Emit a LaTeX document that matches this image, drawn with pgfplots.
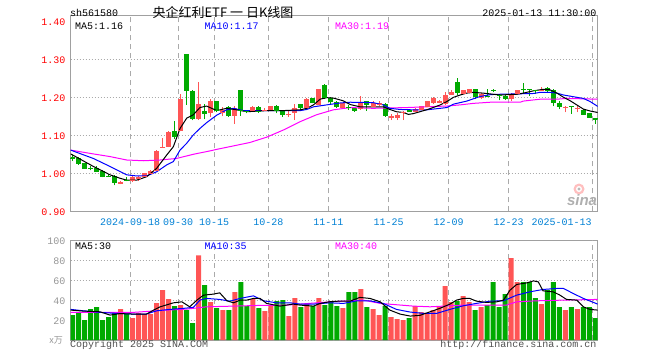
\documentclass[border=0pt]{standalone}
\usepackage{pgfplots}
\pgfplotsset{compat=1.18}
\usepackage{pgfplotstable}
\usepackage{fontspec}
\setmainfont{Liberation Mono}
\newfontfamily\cjk{Noto Sans CJK SC}
\newfontfamily\sinafont{Liberation Sans}
\definecolor{cred}{RGB}{255,85,85}
\definecolor{cgreen}{RGB}{0,170,0}
\definecolor{cblue}{RGB}{0,0,255}
\definecolor{cmag}{RGB}{255,0,255}
\definecolor{axgray}{RGB}{160,160,160}
\definecolor{gridgray}{RGB}{170,170,170}
\definecolor{xlab}{RGB}{0,128,212}
\definecolor{ylabgray}{RGB}{150,150,150}
\definecolor{copygray}{RGB}{80,80,80}

% candles: index, open, high, low, close
\pgfplotstableread{
i O H L C
8 0.973 0.979 0.971 0.978
10 0.981 0.993 0.976 0.990
11 0.985 0.993 0.981 0.991
12 0.992 1.002 0.990 1.000
13 1.000 1.009 0.998 1.007
14 1.007 1.060 1.005 1.059
15 1.068 1.092 1.067 1.070
16 1.070 1.110 1.068 1.108
18 1.112 1.209 1.110 1.195
21 1.143 1.239 1.140 1.182
23 1.160 1.196 1.148 1.189
25 1.160 1.175 1.150 1.167
27 1.151 1.177 1.130 1.171
30 1.165 1.177 1.163 1.175
32 1.165 1.171 1.163 1.167
33 1.167 1.178 1.163 1.177
36 1.155 1.165 1.148 1.157
37 1.160 1.182 1.141 1.171
39 1.174 1.197 1.173 1.195
41 1.182 1.223 1.180 1.221
45 1.174 1.186 1.172 1.184
48 1.171 1.204 1.167 1.186
50 1.176 1.191 1.174 1.184
51 1.180 1.190 1.177 1.185
53 1.148 1.157 1.140 1.150
54 1.147 1.158 1.140 1.154
55 1.161 1.163 1.140 1.162
57 1.162 1.171 1.160 1.169
58 1.169 1.178 1.167 1.177
59 1.177 1.191 1.174 1.189
60 1.186 1.200 1.182 1.197
61 1.186 1.193 1.184 1.191
62 1.184 1.215 1.181 1.206
63 1.208 1.219 1.206 1.213
65 1.211 1.220 1.208 1.219
66 1.213 1.223 1.211 1.222
68 1.200 1.211 1.195 1.208
73 1.196 1.211 1.190 1.206
74 1.209 1.219 1.207 1.218
78 1.219 1.226 1.217 1.220
82 1.174 1.176 1.160 1.175
84 1.171 1.176 1.160 1.172
}\redk
\pgfplotstableread{
i O H L C
0 1.042 1.047 1.032 1.040
1 1.039 1.042 1.022 1.025
2 1.026 1.027 1.012 1.013
3 1.014 1.019 1.008 1.012
4 1.015 1.018 1.005 1.006
5 1.007 1.008 0.989 0.991
6 0.994 0.998 0.990 0.992
7 0.993 0.995 0.968 0.975
9 0.982 0.990 0.979 0.980
17 1.112 1.138 1.090 1.096
19 1.313 1.313 1.180 1.218
20 1.217 1.218 1.139 1.145
22 1.165 1.183 1.142 1.157
24 1.189 1.191 1.160 1.164
26 1.175 1.177 1.148 1.151
28 1.218 1.218 1.151 1.165
29 1.165 1.166 1.158 1.163
31 1.174 1.176 1.159 1.163
34 1.177 1.179 1.158 1.165
35 1.165 1.167 1.148 1.156
38 1.182 1.182 1.167 1.174
40 1.197 1.199 1.184 1.187
42 1.232 1.236 1.195 1.200
43 1.197 1.201 1.180 1.189
44 1.188 1.190 1.173 1.175
46 1.174 1.180 1.167 1.172
47 1.171 1.173 1.162 1.164
49 1.189 1.191 1.164 1.182
52 1.182 1.185 1.149 1.151
56 1.165 1.168 1.162 1.164
64 1.239 1.252 1.206 1.212
67 1.222 1.222 1.195 1.202
69 1.203 1.221 1.200 1.202
70 1.219 1.221 1.213 1.217
71 1.206 1.206 1.192 1.205
72 1.204 1.205 1.194 1.196
75 1.222 1.237 1.209 1.221
76 1.222 1.223 1.204 1.221
77 1.219 1.219 1.208 1.218
79 1.225 1.227 1.215 1.218
80 1.219 1.221 1.176 1.186
81 1.186 1.191 1.168 1.175
83 1.176 1.176 1.157 1.175
85 1.167 1.169 1.154 1.156
86 1.158 1.159 1.146 1.148
87 1.144 1.146 1.130 1.143
}\greenk

% volumes (10k units)
\pgfplotstableread{
i V
8 31
10 22
11 27
12 26
13 26
14 37
15 50
16 41
18 35
21 85
23 38
25 30
27 48
30 41
32 29
33 34
36 24
37 42
39 36
41 42
45 32
48 51
50 31
51 25
53 23
54 21
55 20
57 34
58 28
59 26
60 30
61 34
62 54
63 38
65 44
66 38
68 33
73 82
74 58
78 36
82 30
84 31
}\redv
\pgfplotstableread{
i V
0 25
1 27
2 20
3 31
4 33
5 20
6 23
7 27
9 26
17 34
19 30
20 17
22 55
24 32
26 30
28 58
29 34
31 32
34 39
35 40
38 33
40 34
42 35
43 38
44 34
46 48
47 48
49 33
52 34
56 22
64 39
67 30
69 35
70 58
71 33
72 46
75 58
76 58
77 42
79 50
80 58
81 33
83 33
85 33
86 33
87 22
}\greenv

% moving averages
\pgfplotstableread{
x y
-0.3 1.051
3.47 1.018
6.24 0.996
7.90 0.987
9.01 0.982
10.68 0.982
12.34 0.991
14.0 1.013
15.67 1.048
16.78 1.070
17.89 1.118
19.0 1.145
20.1 1.154
21.2 1.173
22.3 1.177
24.0 1.165
25.65 1.171
27.3 1.167
29.0 1.162
32.3 1.165
35.1 1.165
37.9 1.167
39.0 1.171
40.1 1.180
41.2 1.195
42.3 1.199
43.4 1.198
45.0 1.191
46.2 1.181
47.8 1.175
50.0 1.175
51.7 1.175
52.8 1.168
53.9 1.162
55.05 1.160
55.9 1.155
56.7 1.157
57.8 1.162
58.9 1.167
60.0 1.173
61.2 1.180
62.3 1.189
63.4 1.200
64.5 1.206
65.6 1.211
66.7 1.213
68.3 1.211
70.0 1.208
71.1 1.206
73.9 1.208
75.0 1.211
76.7 1.217
78.3 1.221
79.4 1.220
80.6 1.211
81.7 1.200
82.8 1.191
83.9 1.180
85.0 1.169
86.1 1.164
87.39 1.160
}\mafive
\pgfplotstableread{
x y
-0.3 1.061
3.47 1.039
6.24 1.018
9.01 0.996
10.68 0.993
12.34 0.993
14.0 1.004
15.67 1.022
16.78 1.031
17.89 1.061
19.0 1.079
20.1 1.101
21.2 1.118
22.3 1.133
24.0 1.153
25.65 1.167
26.76 1.171
28.4 1.165
30.1 1.165
37.9 1.165
39.0 1.168
40.1 1.175
42.3 1.180
44.5 1.185
46.2 1.187
50.0 1.186
51.7 1.180
52.8 1.171
54.5 1.168
56.7 1.167
58.9 1.167
61.2 1.171
62.3 1.173
63.4 1.182
65.6 1.190
67.8 1.202
69.5 1.207
71.1 1.208
73.9 1.209
76.7 1.210
77.8 1.213
79.4 1.213
80.6 1.211
81.7 1.206
82.8 1.203
83.9 1.200
85.0 1.197
86.1 1.189
87.39 1.176
}\maten
\pgfplotstableread{
x y
-0.3 1.061
3.47 1.051
6.24 1.044
9.01 1.035
11.8 1.033
14.6 1.035
17.3 1.039
20.1 1.050
22.9 1.059
24.0 1.063
26.76 1.072
29.5 1.081
32.3 1.095
35.1 1.114
37.9 1.136
40.6 1.154
43.4 1.167
46.2 1.173
50.0 1.171
55.6 1.173
58.9 1.175
62.3 1.177
64.5 1.180
66.7 1.184
69.5 1.187
74.5 1.187
75.0 1.190
77.8 1.195
80.6 1.195
82.2 1.197
87.39 1.195
}\mathirty
\pgfplotstableread{
x y
-0.3 30
1.8 29
4.57 28.3
6.24 25
7.9 26.5
10.1 26
12.3 26
13.5 30
14.6 33.3
16.8 37.3
18.2 38.3
19.5 33.3
20.7 40
21.8 45
23.4 46
24.5 47.3
25.7 39.3
26.8 37.3
27.9 40
29.0 40
30.1 41.7
31.2 41.7
32.3 36.7
34.5 34
36.7 36
37.9 35
40.1 34
41.2 36.7
42.9 38.5
44.5 39
46.2 39
47.8 42.7
49.5 41.7
51.2 38.3
52.8 30
54.5 26
56.2 24
57.8 24.7
59.5 28.3
61.1 31.7
62.8 36
63.9 40
65.0 41.7
66.1 41.7
67.2 39
68.9 37.7
70.6 38.3
71.7 40
72.8 50
73.9 55.7
75.6 57.3
76.7 59.3
77.5 58.3
78.3 49.3
80.0 48.3
81.1 45
82.2 40.7
83.9 40
85.0 33.3
86.1 30.7
87.39 30
}\vfive
\pgfplotstableread{
x y
-0.3 30.7
1.8 29.3
4.57 27.7
7.35 26.7
10.1 26
12.3 26
14.0 29.3
16.2 30.7
18.4 31.7
20.1 32.7
21.2 40
22.3 41.7
24.5 40.7
26.2 39
27.9 41.7
30.1 44.3
31.8 39.3
34.0 37.3
36.2 37.3
37.9 36
40.1 36
42.8 37.3
45.1 36.7
47.3 39.3
49.5 39.3
51.7 36.7
53.9 30.7
56.2 28
58.4 26.7
60.6 26.7
62.8 30.7
65.0 34.3
67.2 36.7
69.5 39
71.7 39.3
73.9 45
76.1 48.3
78.3 50.7
80.6 51.7
81.7 51.7
83.3 46.7
85.0 41.7
87.39 36
}\vten
\pgfplotstableread{
x y
-0.3 27.7
4.57 27.7
10.1 27.7
15.7 30
19.0 31
22.3 33.3
26.8 34
31.2 34.7
35.6 35
42.9 38.3
48.4 40
51.2 36.7
56.7 34
59.5 33.3
65.0 35
70.6 35
72.2 35
73.9 38.3
77.2 39.3
81.7 40
87.39 40.7
}\vthirty

\pgfplotsset{
  kbase/.style={
    scale only axis, width=527bp,
    xmin=-0.3, xmax=87.39,
    axis line style={axgray, line width=1.1bp},
    major tick length=0pt,
    xtick={9.584,17.584,23.584,32.584,42.584,52.584,62.584,72.584},
    extra x ticks={86.584},
    xmajorgrids,
    major x grid style={gridgray, dash pattern=on 5bp off 4bp, line width=0.9bp},
    /pgf/number format/assume math mode=true,
    tick label style={font=\fontsize{10bp}{12bp}\selectfont, inner sep=0pt},
    yticklabel style={anchor=base east, xshift=-5bp, yshift=-4.4bp},
  },
  candlewick/.style={only marks, mark=-, mark size=0pt,
    mark options={color=#1, line width=0.1bp},
    error bars/.cd, y dir=plus, y explicit, error mark=none,
    error bar style={color=#1, line width=1bp}},
  candlebody/.style={only marks, mark=-, mark size=2.5bp,
    mark options={color=#1, line width=1bp},
    error bars/.cd, y dir=plus, y explicit, error mark=none,
    error bar style={color=#1, line width=5bp}},
}

\begin{document}
\begin{tikzpicture}[x=1bp,y=1bp]
\path[use as bounding box] (0,0) rectangle (660,360);

% sina watermark logo (behind the chart)
\fill[red!25] (579,171) circle (5.5);
\fill[white] (579,171) circle (3);
\fill[gray!55] (579,171) circle (1.6);

% ---------- price panel ----------
\begin{axis}[kbase,
  at={(70.7bp,148.7bp)}, anchor=south west,
  height=195.6bp,
  ymin=0.90, ymax=1.4147,
  ytick={0.9,1.0,1.1,1.2,1.3,1.4},
  yticklabels={0.90,1.00,1.10,1.20,1.30,1.40},
  yticklabel style={text=red},
  extra y ticks={1.0,1.1,1.2,1.3},
  extra y tick labels={},
  extra y tick style={ymajorgrids=true,
    major y grid style={gridgray, dash pattern=on 1bp off 2bp, line width=0.9bp}},
  xticklabels={2024-09-18,09-30,10-15,10-28,11-11,11-25,12-09,12-23},
  xticklabel style={text=xlab, anchor=base, yshift=-14bp},
  extra x tick labels={2025-01-13},
  extra x tick style={xticklabel style={anchor=base east, xshift=-1bp}},
]
\addplot[candlewick=cred] table[x=i, y=L, y error expr=\thisrow{H}-\thisrow{L}] {\redk};
\addplot[candlewick=cgreen] table[x=i, y=L, y error expr=\thisrow{H}-\thisrow{L}] {\greenk};
\addplot[candlebody=cred] table[x=i, y=O, y error expr=\thisrow{C}-\thisrow{O}] {\redk};
\addplot[candlebody=cgreen] table[x=i, y=C, y error expr=\thisrow{O}-\thisrow{C}] {\greenk};
\addplot[mark=none, cmag, line width=1bp] table[x=x,y=y] {\mathirty};
\addplot[mark=none, cblue, line width=1bp] table[x=x,y=y] {\maten};
\addplot[mark=none, black, line width=1bp] table[x=x,y=y] {\mafive};
\end{axis}

% ---------- volume panel ----------
\begin{axis}[kbase,
  at={(70.7bp,20bp)}, anchor=south west,
  height=99.7bp,
  ymin=0, ymax=100,
  ytick={0,20,40,60,80,100},
  yticklabels={,20,40,60,80,100},
  yticklabel style={text=ylabgray},
  extra y ticks={20,40,60,80},
  extra y tick labels={},
  extra y tick style={ymajorgrids=true,
    major y grid style={gridgray, dash pattern=on 1bp off 2bp, line width=0.9bp}},
  xticklabels={},
  extra x tick labels={},
]
\addplot[ybar, bar width=5bp, bar shift=0pt, fill=cred, draw=none] table[x=i, y=V] {\redv};
\addplot[ybar, bar width=5bp, bar shift=0pt, fill=cgreen, draw=none] table[x=i, y=V] {\greenv};
\addplot[mark=none, cmag, line width=1bp] table[x=x,y=y] {\vthirty};
\addplot[mark=none, cblue, line width=1bp] table[x=x,y=y] {\vten};
\addplot[mark=none, black, line width=1bp] table[x=x,y=y] {\vfive};
\end{axis}

% ---------- texts ----------
\begin{scope}[every node/.style={inner sep=0pt, font=\fontsize{10bp}{12bp}\selectfont}]
\node[anchor=base west] at (70,343.3) {sh561580};
\node[anchor=center] at (223,347.5) {\cjk\fontsize{13bp}{15bp}\selectfont 央企红利ETF 一 日K线图};
\node[anchor=base east] at (596.7,343.3) {2025-01-13 11:30:00};
\node[anchor=base west] at (75,330.7) {MA5:1.16};
\node[anchor=base west, text=cblue] at (204.3,330.7) {MA10:1.17};
\node[anchor=base west, text=cmag] at (335,330.7) {MA30:1.19};
\node[anchor=base west] at (75,110.3) {MA5:30};
\node[anchor=base west, text=cblue] at (204.3,110.3) {MA10:35};
\node[anchor=base west, text=cmag] at (335,110.3) {MA30:40};
\node[anchor=base west, text=copygray] at (70,12.7) {Copyright 2025 SINA.COM};
\node[anchor=base east, text=copygray] at (596.7,12.7) {http://finance.sina.com.cn};
\node[anchor=base east, text=ylabgray] at (63,17) {\cjk\fontsize{9bp}{10bp}\selectfont x万};
\node[anchor=center, text={rgb,255:red,175;green,175;blue,175}] at (582,160) {\sinafont\bfseries\itshape\fontsize{15bp}{16bp}\selectfont sina};
\end{scope}
\end{tikzpicture}
\end{document}
